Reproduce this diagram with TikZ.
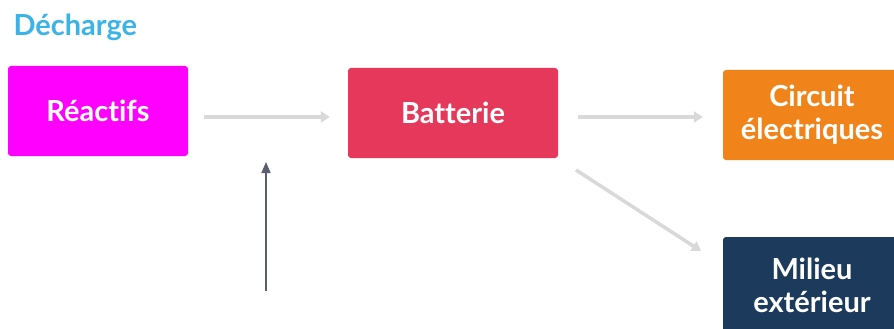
\documentclass[tikz,border=0pt]{standalone}
\usepackage{fontspec}
\setmainfont{Lato}[Ligatures={NoCommon}]
\usetikzlibrary{arrows.meta}
\definecolor{titleblue}{HTML}{3BB3E8}
\definecolor{reacmag}{HTML}{FF00FF}
\definecolor{battred}{HTML}{E5385A}
\definecolor{circorange}{HTML}{F0841A}
\definecolor{milnavy}{HTML}{1B3A5C}
\definecolor{flowgray}{HTML}{D9D9D9}
\definecolor{inslate}{HTML}{5A5E6E}
\begin{document}
\begin{tikzpicture}[x=1pt,y=-1pt,
  box/.style={rounded corners=3pt, text=white, font=\fontsize{29}{33}\selectfont\bfseries, align=center, inner sep=0pt},
  flow/.style={draw=flowgray, line width=3.5pt, -{Triangle[length=9pt,width=11pt]}},
  feed/.style={draw=inslate, line width=1.6pt, -{Triangle[length=11pt,width=9pt]}}]
  \useasboundingbox (0,0) rectangle (894,329);
  \fill[white] (0,0) rectangle (894,329);
  \node[anchor=west, text=titleblue, font=\fontsize{29}{33}\selectfont\bfseries] (title) at (10,27) {Décharge};
  \node[box, fill=reacmag, minimum width=180pt, minimum height=90pt] (reac) at (98,111) {Réactifs};
  \node[box, fill=battred, minimum width=210pt, minimum height=90pt] (batt) at (453,113) {Batterie};
  \node[box, fill=circorange, minimum width=178pt, minimum height=90pt] (circ) at (812,115) {Circuit\\électriques};
  \node[box, fill=milnavy, minimum width=178pt, minimum height=96pt] (mil) at (812,285) {Milieu\\extérieur};
  \coordinate (feedstart) at (266,291);
  \coordinate (feedend) at (266,162);
  \draw[flow] ([xshift=16pt]reac.east |- 0,117) -- ([xshift=-18pt]batt.west |- 0,117);
  \draw[flow] ([xshift=20pt]batt.east |- 0,117) -- ([xshift=-20pt]circ.west |- 0,117);
  \draw[flow] (576,170) -- (701,251);
  \draw[feed] (feedstart) -- (feedend);
\end{tikzpicture}
\end{document}
